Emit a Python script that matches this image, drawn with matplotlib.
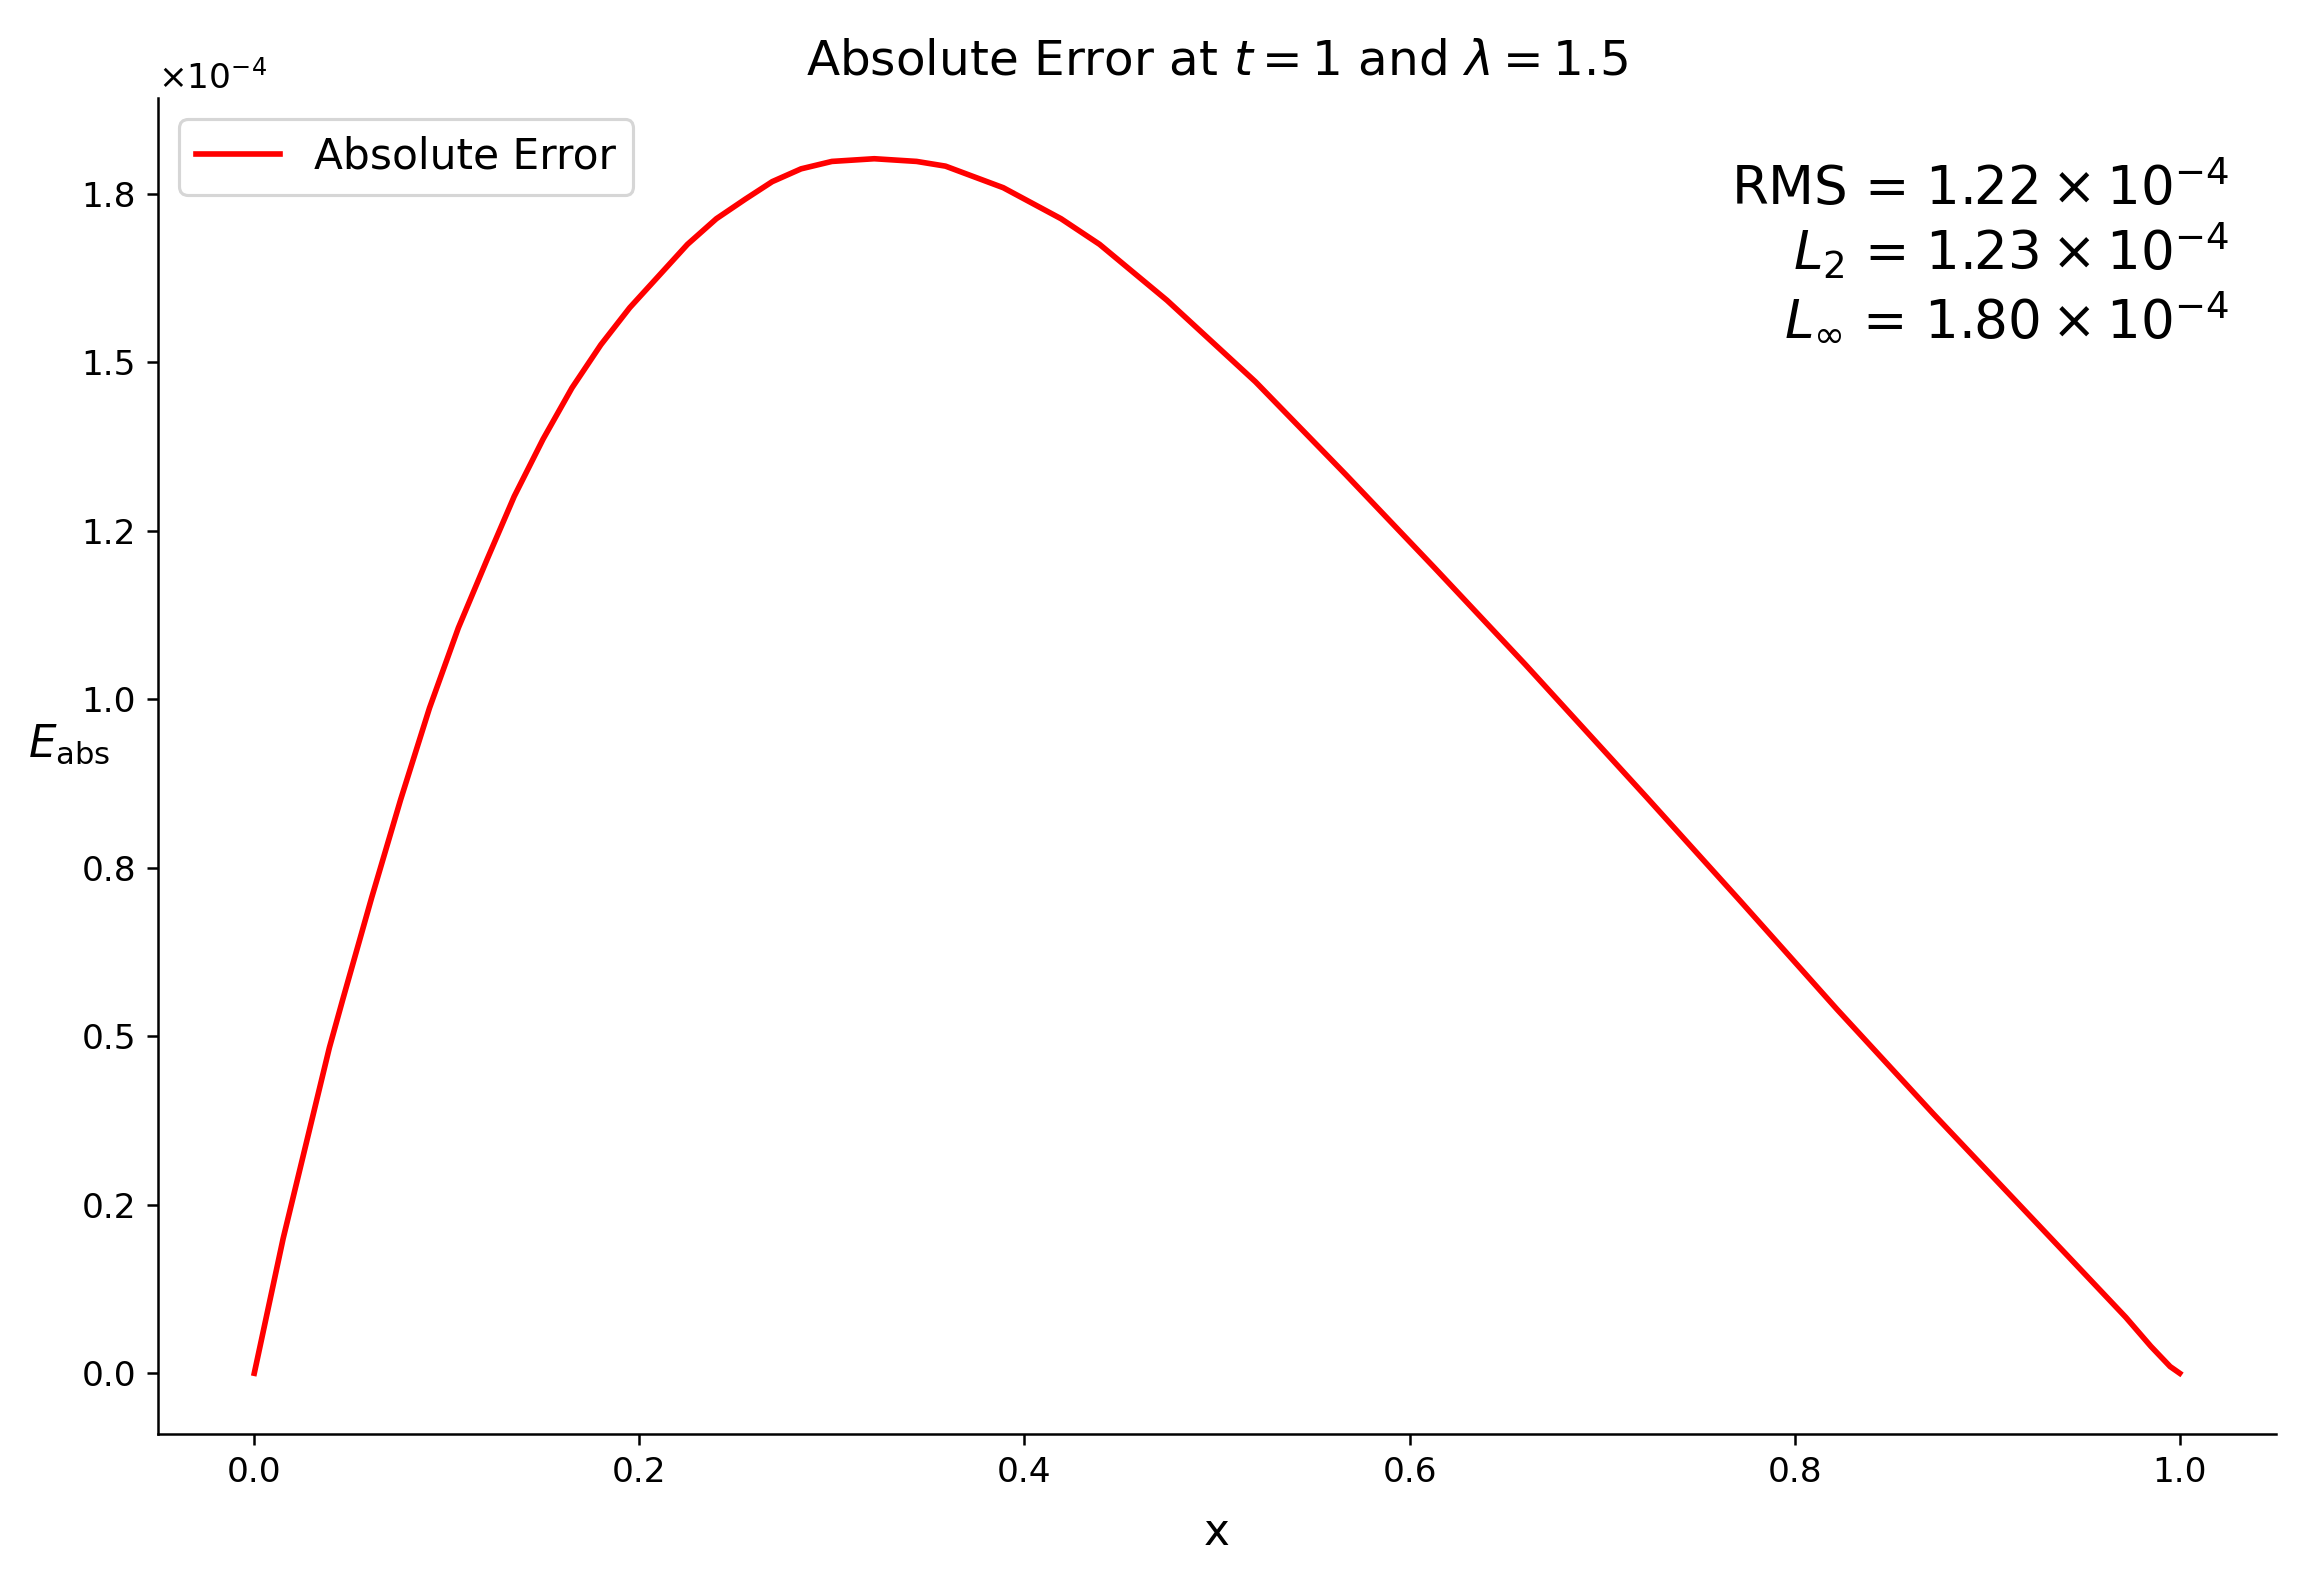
import numpy as np
import matplotlib
matplotlib.use("Agg")
import matplotlib.pyplot as plt
from matplotlib.ticker import ScalarFormatter, MultipleLocator

# ---- data (error values in units of 1e-4) ----
x_vals = [0.000, 0.015, 0.039, 0.046, 0.061, 0.076, 0.091, 0.106, 0.121, 0.135,
          0.150, 0.165, 0.180, 0.195, 0.210, 0.225, 0.240, 0.255, 0.269, 0.284,
          0.300, 0.322, 0.344, 0.359, 0.389, 0.419, 0.439, 0.474, 0.520, 0.567,
          0.613, 0.660, 0.699, 0.723, 0.772, 0.822, 0.872, 0.922, 0.972, 0.985,
          0.995, 1.000]
err_vals = [0.000, 0.200, 0.483, 0.555, 0.706, 0.851, 0.987, 1.106, 1.208, 1.301,
            1.386, 1.462, 1.526, 1.581, 1.628, 1.675, 1.713, 1.742, 1.768, 1.787,
            1.798, 1.802, 1.798, 1.791, 1.759, 1.713, 1.675, 1.592, 1.471, 1.333,
            1.195, 1.052, 0.930, 0.855, 0.700, 0.540, 0.385, 0.234, 0.083, 0.040,
            0.010, 0.000]
err_scale = 1e-4
stat_names = ["RMS", "$L_2$", r"$L_\infty$"]
stat_vals = [1.22, 1.23, 1.80]

W, H, DPI = 2302, 1573, 225
fig = plt.figure(figsize=(W / DPI, H / DPI), dpi=DPI)
ax_top, ax_bot = 98, 1434
ax = fig.add_axes([158 / W, 1 - ax_bot / H, (2276 - 158) / W, (ax_bot - ax_top) / H])

y = np.array(err_vals) * err_scale
ax.plot(x_vals, y, color="red", lw=1.8, label="Absolute Error")


class ForceFormat(ScalarFormatter):
    def _set_format(self):
        self.format = "%1.1f"


fmt = ForceFormat(useMathText=True)
fmt.set_powerlimits((0, 0))
ax.yaxis.set_major_formatter(fmt)
ax.yaxis.set_major_locator(MultipleLocator(0.25e-4))
ax.tick_params(labelsize=11)
ax.yaxis.get_offset_text().set_fontsize(11)

ax.spines["top"].set_visible(False)
ax.spines["right"].set_visible(False)

ax.set_title(r"Absolute Error at $t = 1$ and $\lambda = 1.5$", fontsize=15.5, pad=7.5)
ax.set_xlabel("x", fontsize=14, labelpad=7)
ax.set_ylabel(r"$E_{\mathrm{abs}}$", fontsize=14, rotation=0)

ax.legend(loc="upper left", fontsize=13.5)

# statistics block, right-aligned, one line each (baselines in figure pixels)
baselines_px = [205, 270, 335]
for n, v, bpx in zip(stat_names, stat_vals, baselines_px):
    ya = 1 - (bpx - ax_top) / (ax_bot - ax_top)
    ax.text(0.978, ya, f"{n} = ${v:.2f}\\times10^{{-4}}$", transform=ax.transAxes,
            ha="right", va="baseline", fontsize=17)

fig.savefig("out.png", dpi=DPI)
